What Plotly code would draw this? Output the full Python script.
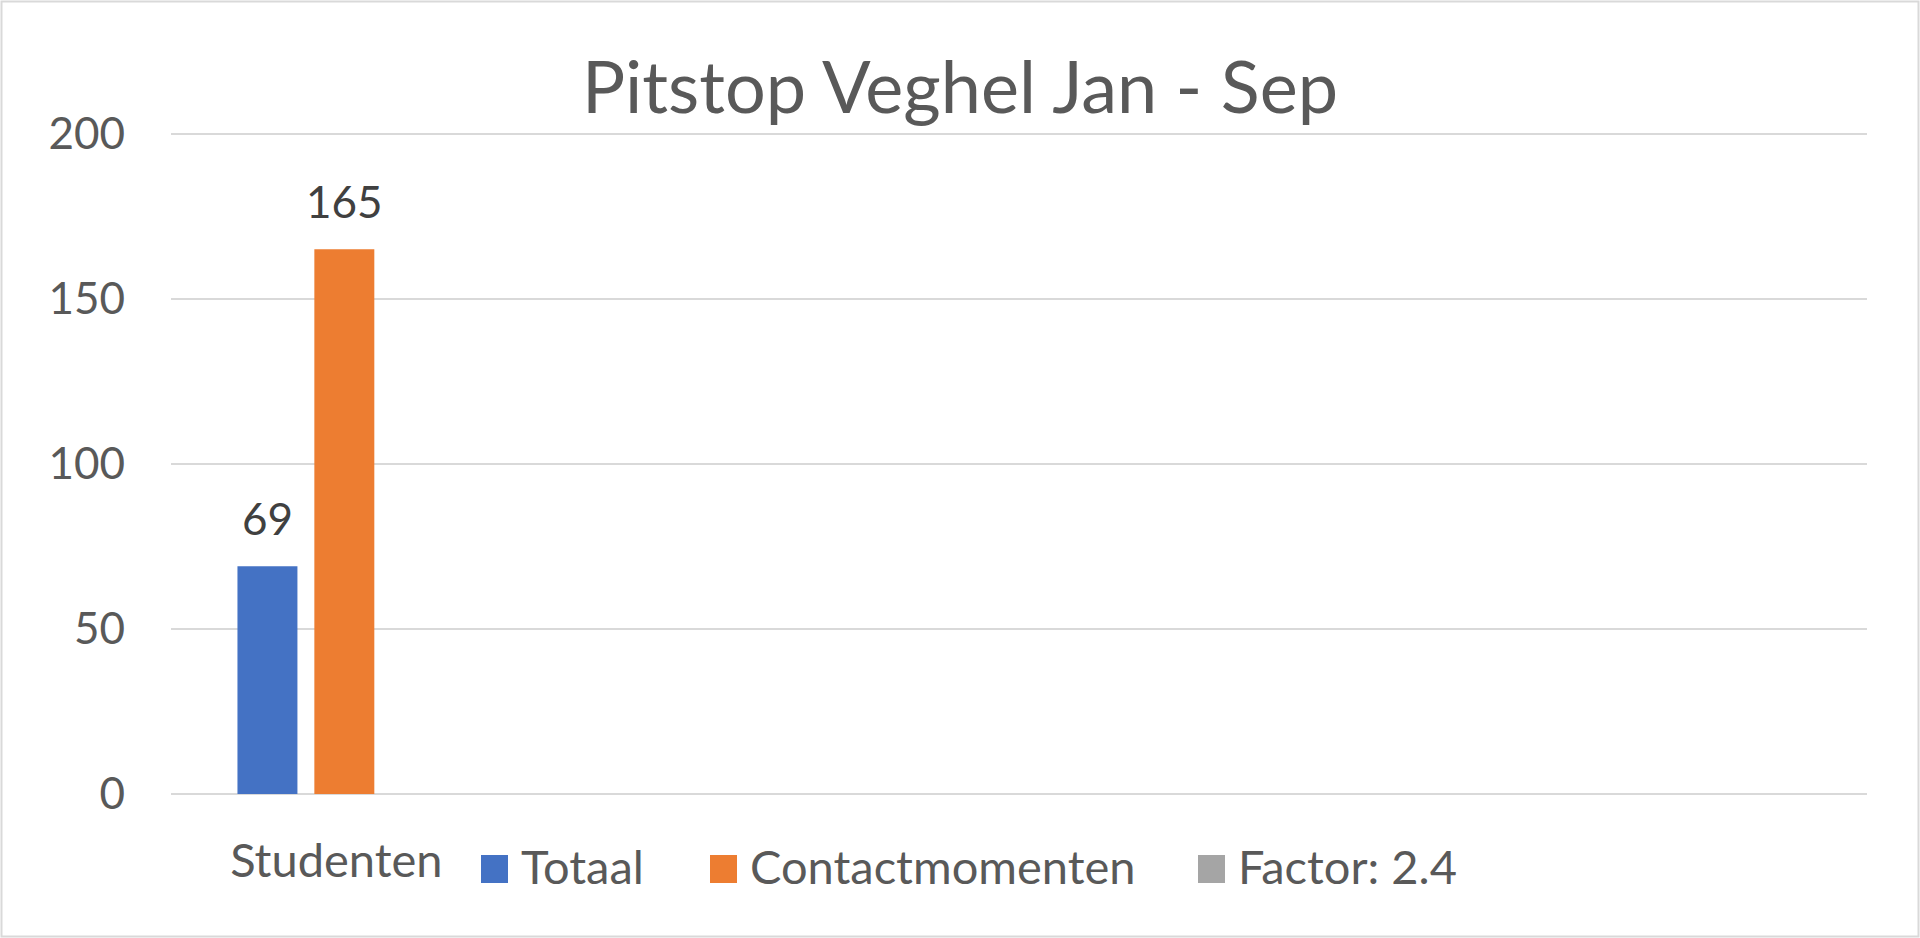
import plotly.graph_objects as go

# data
categorieen = ["Studenten"]
series_namen = ["Totaal", "Contactmomenten", "Factor: 2.4"]
totaal = [69]
contactmomenten = [165]
factor = [None]
kleuren = ["#4472C4", "#ED7D31", "#A5A5A5"]

W, H = 1920, 938
L, R, T, B = 171, 53, 132, 144
pw, ph = W - L - R, H - T - B
FONT = "Lato, Open Sans, sans-serif"
TXT = "#595959"


def px_x(x):
    return (x - L) / pw


def px_y(y):
    return (H - B - y) / ph


fig = go.Figure()
waarden = [totaal, contactmomenten, factor]
for naam, vals, kl in zip(series_namen, waarden, kleuren):
    fig.add_trace(go.Bar(x=categorieen, y=vals, name=naam, marker_color=kl,
                         marker_line_width=0, showlegend=False))

# data labels above the bars
bargap, groupgap = 0.32, 0.22
slot = (1 - bargap) / len(series_namen)
for i, vals in enumerate(waarden):
    for j, v in enumerate(vals):
        if v is None:
            continue
        xpos = j - (1 - bargap) / 2 + slot * (i + 0.5)
        fig.add_annotation(x=xpos, y=v, text=str(v), showarrow=False,
                           yanchor="bottom", yshift=20,
                           font=dict(family=FONT, size=44, color="#404040"))

# legend drawn by hand so the squares are as large as in the original
leg_sq = [481, 710, 1198]
for naam, kl, x0 in zip(series_namen, kleuren, leg_sq):
    fig.add_shape(type="rect", xref="paper", yref="paper",
                  x0=px_x(x0), x1=px_x(x0 + 27), y0=px_y(883), y1=px_y(855),
                  fillcolor=kl, line_width=0)
    fig.add_annotation(xref="paper", yref="paper", x=px_x(x0 + 38), y=px_y(866),
                       text=naam, showarrow=False, xanchor="left", yanchor="middle",
                       font=dict(family=FONT, size=47, color=TXT))

# chart border
fig.add_shape(type="rect", xref="paper", yref="paper",
              x0=px_x(1.5), x1=px_x(W - 1.5), y0=px_y(H - 1.5), y1=px_y(1.5),
              line=dict(color="#D9D9D9", width=2), fillcolor="rgba(0,0,0,0)")

fig.update_layout(
    width=W, height=H,
    margin=dict(l=L, r=R, t=T, b=B),
    paper_bgcolor="white", plot_bgcolor="white",
    barmode="group", bargap=bargap, bargroupgap=groupgap,
    title=dict(text="Pitstop Veghel Jan - Sep", x=0.5, xanchor="center",
               y=1 - 88 / H, yanchor="middle", yref="container",
               font=dict(family=FONT, size=72, color=TXT)),
    showlegend=False,
    font=dict(family=FONT, color=TXT),
)
fig.update_xaxes(range=[-0.511, 4.489], showgrid=False, zeroline=False, showline=False,
                 ticks="", ticklabelstandoff=35, ticklabelshift=-8,
                 tickfont=dict(family=FONT, size=47, color=TXT))
fig.update_yaxes(range=[0, 200.5], tickvals=[0, 50, 100, 150, 200], showgrid=True,
                 gridcolor="#D9D9D9", gridwidth=2, zeroline=True,
                 zerolinecolor="#D9D9D9", zerolinewidth=2,
                 showline=False, ticks="", ticklabelstandoff=45,
                 tickfont=dict(family=FONT, size=44, color=TXT))

fig.write_html("out.html", config={"displayModeBar": False},
               post_script="document.body.style.margin = '0';")
